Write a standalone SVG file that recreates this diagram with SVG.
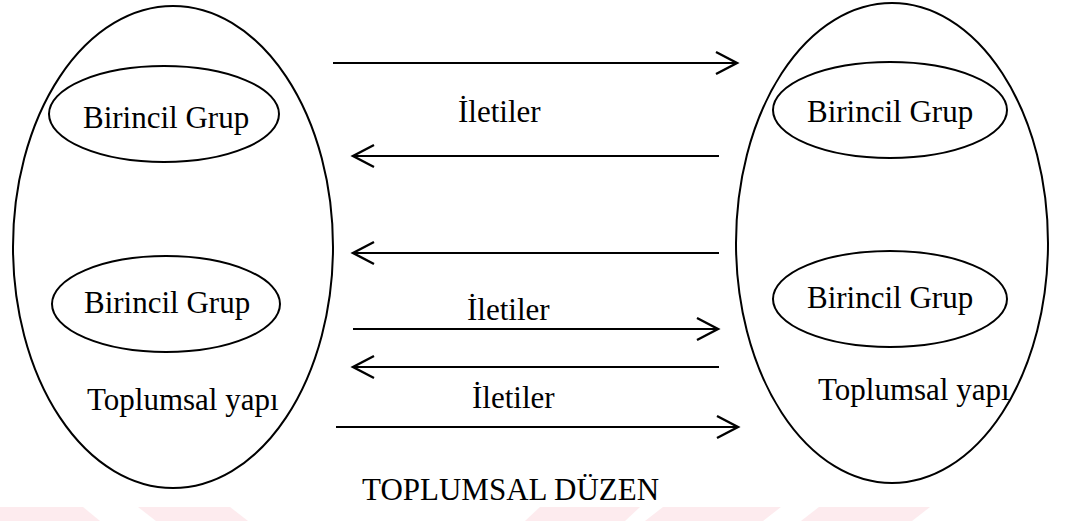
<svg xmlns="http://www.w3.org/2000/svg" width="1065" height="521" viewBox="0 0 1065 521">
  <style>
    .outline { fill: none; stroke: #000; stroke-width: 2; }
    .arrow { fill: none; stroke: #000; stroke-width: 2; marker-end: url(#chevron); }
    .label { font-family: "Liberation Serif", "Times New Roman", serif; font-size: 31px; fill: #000; }
    .band { fill: #fdebee; }
  </style>
  <defs>
    <marker id="chevron" viewBox="0 0 26 26" refX="23" refY="13" markerWidth="26" markerHeight="26" markerUnits="userSpaceOnUse" orient="auto">
      <path d="M2,2 L23,13 L2,24" fill="none" stroke="#000" stroke-width="2.4"/>
    </marker>
  </defs>

  <rect width="1065" height="521" fill="#fff"/>

  <!-- faint decorative band along the bottom edge -->
  <g id="band">
    <polygon class="band" points="0,507 83,507 100,521 0,521"/>
    <polygon class="band" points="138,507 230,507 248,521 156,521"/>
    <polygon class="band" points="540,507 640,507 625,521 525,521"/>
    <polygon class="band" points="663,507 781,507 763,521 645,521"/>
    <polygon class="band" points="819,507 930,507 912,521 801,521"/>
  </g>

  <!-- left society -->
  <g id="society-left">
    <ellipse class="outline" cx="173" cy="247" rx="160" ry="241"/>
    <text class="label" x="87" y="410">Toplumsal yapı</text>
  </g>
  <g id="group-left-top">
    <ellipse class="outline" cx="164" cy="114" rx="115" ry="48"/>
    <text class="label" x="83" y="128">Birincil Grup</text>
  </g>
  <g id="group-left-bottom">
    <ellipse class="outline" cx="166" cy="304" rx="114" ry="48"/>
    <text class="label" x="84" y="313">Birincil Grup</text>
  </g>

  <!-- right society -->
  <g id="society-right">
    <ellipse class="outline" cx="892" cy="243" rx="156" ry="240"/>
    <text class="label" x="818" y="400">Toplumsal yapı</text>
  </g>
  <g id="group-right-top">
    <ellipse class="outline" cx="890" cy="110" rx="117" ry="48"/>
    <text class="label" x="807" y="122">Birincil Grup</text>
  </g>
  <g id="group-right-bottom">
    <ellipse class="outline" cx="890" cy="299" rx="117" ry="48"/>
    <text class="label" x="807" y="308">Birincil Grup</text>
  </g>

  <!-- message flows between the two structures -->
  <g id="connectors">
    <line class="arrow" x1="333" y1="63" x2="737" y2="63"/>
    <line class="arrow" x1="719" y1="156" x2="353" y2="156"/>
    <line class="arrow" x1="719" y1="253" x2="353" y2="253"/>
    <line class="arrow" x1="353" y1="329" x2="718" y2="329"/>
    <line class="arrow" x1="719" y1="367" x2="353" y2="367"/>
    <line class="arrow" x1="336" y1="427" x2="738" y2="427"/>
    <text class="label" x="458" y="122">İletiler</text>
    <text class="label" x="467" y="320">İletiler</text>
    <text class="label" x="472" y="408">İletiler</text>
  </g>

  <g id="caption">
    <text class="label" x="362" y="500">TOPLUMSAL DÜZEN</text>
  </g>
</svg>
